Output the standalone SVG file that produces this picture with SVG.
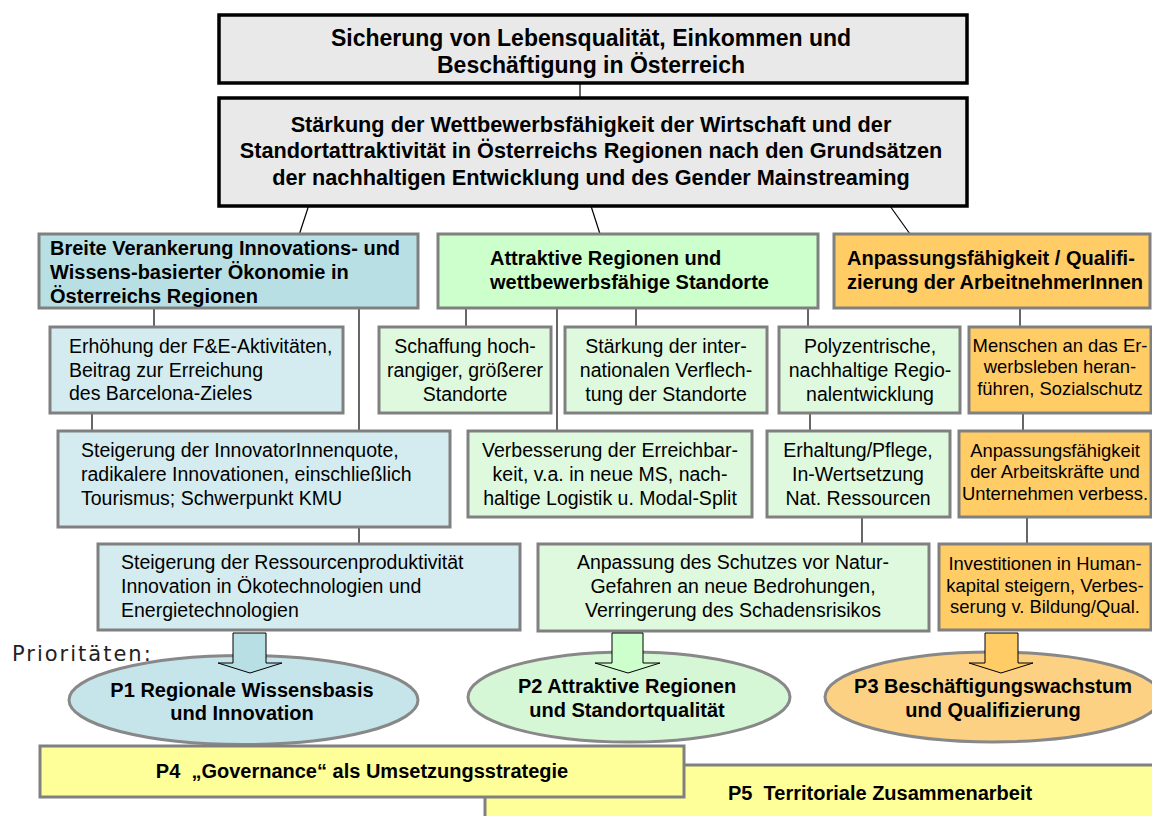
<svg xmlns="http://www.w3.org/2000/svg" width="1152" height="816" viewBox="0 0 1152 816">
<style>
.top{fill:#e9e9e9;stroke:#000;stroke-width:3.5}
.bx{stroke:#808080;stroke-width:3}
.bL2{fill:#b8dfe4}.gL2{fill:#ccffcc}.oL2{fill:#ffcc66}
.b3{fill:#d4ecef}.g3{fill:#def9de}.o3{fill:#ffcc66}
.ye{fill:#ffff99;stroke:#808080;stroke-width:3}
.el{stroke:#888;stroke-width:3}
.arr{stroke:#000;stroke-width:1}
.con line{stroke:#000;stroke-width:1.2}
text{font-family:"Liberation Sans",Arial,sans-serif;fill:#000}
.h1{font-size:23px;font-weight:bold;text-anchor:middle}
.h2{font-size:21.7px;font-weight:bold;text-anchor:middle}
.h3{font-size:20px;font-weight:bold}
.t{font-size:19.5px}
.tc{font-size:19.5px;text-anchor:middle}
.to{font-size:18.4px;text-anchor:middle}
.p{font-size:20px;font-weight:bold;text-anchor:middle}
.pre{white-space:pre}
.pr{font-family:"DejaVu Sans",Verdana,sans-serif;font-size:21px;letter-spacing:2px;fill:#222}
</style>
<rect width="1152" height="816" fill="#fff"/>

<g id="connectors" class="con">
<line x1="580" y1="83" x2="580" y2="98"/>
<line x1="308.6" y1="206" x2="299.4" y2="234"/>
<line x1="591" y1="206" x2="600" y2="234"/>
<line x1="890" y1="206" x2="910" y2="234"/>
<line x1="154" y1="308" x2="154" y2="327"/>
<line x1="359" y1="308" x2="359" y2="431"/>
<line x1="92" y1="413" x2="92" y2="431"/>
<line x1="359" y1="527" x2="359" y2="544"/>
<line x1="466" y1="308" x2="466" y2="327"/>
<line x1="557" y1="308" x2="557" y2="431"/>
<line x1="636" y1="308" x2="636" y2="327"/>
<line x1="808" y1="308" x2="808" y2="327"/>
<line x1="810" y1="413" x2="810" y2="431"/>
<line x1="862" y1="517" x2="862" y2="544"/>
<line x1="1020" y1="308" x2="1020" y2="327"/>
<line x1="1023" y1="413" x2="1023" y2="431"/>
<line x1="1027" y1="517" x2="1027" y2="544"/>
</g>

<g id="goal">
<rect class="top" x="219" y="15" width="748" height="68"/>
<text class="h1" x="591" y="46">Sicherung von Lebensqualität, Einkommen und</text>
<text class="h1" x="591" y="73">Beschäftigung in Österreich</text>
</g>

<g id="aim">
<rect class="top" x="219" y="98" width="748" height="108"/>
<text class="h2" x="591" y="132">Stärkung der Wettbewerbsfähigkeit der Wirtschaft und der</text>
<text class="h2" x="591" y="158">Standortattraktivität in Österreichs Regionen nach den Grundsätzen</text>
<text class="h2" x="591" y="185">der nachhaltigen Entwicklung und des Gender Mainstreaming</text>
</g>

<g id="l2-blue">
<rect class="bx bL2" x="39" y="234" width="379" height="74"/>
<text class="h3" x="50" y="255">Breite Verankerung Innovations- und</text>
<text class="h3" x="50" y="279">Wissens-basierter Ökonomie in</text>
<text class="h3" x="50" y="303">Österreichs Regionen</text>
</g>

<g id="l2-green">
<rect class="bx gL2" x="438" y="234" width="380" height="74"/>
<text class="h3" x="490" y="265">Attraktive Regionen und</text>
<text class="h3" x="490" y="289">wettbewerbsfähige Standorte</text>
</g>

<g id="l2-orange">
<rect class="bx oL2" x="834" y="234" width="316" height="74"/>
<text class="h3" x="847" y="265">Anpassungsfähigkeit / Qualifi-</text>
<text class="h3" x="847" y="289">zierung der ArbeitnehmerInnen</text>
</g>

<g id="b1">
<rect class="bx b3" x="50" y="327" width="293" height="86"/>
<text class="t" x="69" y="353">Erhöhung der F&amp;E-Aktivitäten,</text>
<text class="t" x="69" y="377">Beitrag zur Erreichung</text>
<text class="t" x="69" y="400">des Barcelona-Zieles</text>
</g>

<g id="b2">
<rect class="bx b3" x="58" y="431" width="392" height="96"/>
<text class="t" x="81" y="457">Steigerung der InnovatorInnenquote,</text>
<text class="t" x="81" y="481">radikalere Innovationen, einschließlich</text>
<text class="t" x="81" y="505">Tourismus; Schwerpunkt KMU</text>
</g>

<g id="b3">
<rect class="bx b3" x="98" y="544" width="422" height="86"/>
<text class="t" x="121" y="569">Steigerung der Ressourcenproduktivität</text>
<text class="t" x="121" y="593">Innovation in Ökotechnologien und</text>
<text class="t" x="121" y="617">Energietechnologien</text>
</g>

<g id="g1">
<rect class="bx g3" x="379" y="327" width="172" height="86"/>
<text class="tc" x="465" y="353">Schaffung hoch-</text>
<text class="tc" x="465" y="377">rangiger, größerer</text>
<text class="tc" x="465" y="401">Standorte</text>
</g>

<g id="g2">
<rect class="bx g3" x="565" y="327" width="202" height="86"/>
<text class="tc" x="666" y="353">Stärkung der inter-</text>
<text class="tc" x="666" y="377">nationalen Verflech-</text>
<text class="tc" x="666" y="401">tung der Standorte</text>
</g>

<g id="g3">
<rect class="bx g3" x="779" y="327" width="181" height="86"/>
<text class="tc" x="870" y="353">Polyzentrische,</text>
<text class="tc" x="870" y="377">nachhaltige Regio-</text>
<text class="tc" x="870" y="401">nalentwicklung</text>
</g>

<g id="g4">
<rect class="bx g3" x="468" y="431" width="284" height="86"/>
<text class="tc" x="610" y="457">Verbesserung der Erreichbar-</text>
<text class="tc" x="610" y="481">keit, v.a. in neue MS, nach-</text>
<text class="tc" x="610" y="505">haltige Logistik u. Modal-Split</text>
</g>

<g id="g5">
<rect class="bx g3" x="767" y="431" width="183" height="86"/>
<text class="tc" x="858" y="457">Erhaltung/Pflege,</text>
<text class="tc" x="858" y="481">In-Wertsetzung</text>
<text class="tc" x="858" y="505">Nat. Ressourcen</text>
</g>

<g id="g6">
<rect class="bx g3" x="538" y="544" width="391" height="87"/>
<text class="tc" x="733" y="569">Anpassung des Schutzes vor Natur-</text>
<text class="tc" x="733" y="593">Gefahren an neue Bedrohungen,</text>
<text class="tc" x="733" y="617">Verringerung des Schadensrisikos</text>
</g>

<g id="o1">
<rect class="bx o3" x="969" y="327" width="182" height="86"/>
<text class="to" x="1060" y="352">Menschen an das Er-</text>
<text class="to" x="1060" y="373">werbsleben heran-</text>
<text class="to" x="1060" y="395">führen, Sozialschutz</text>
</g>

<g id="o2">
<rect class="bx o3" x="959" y="431" width="192" height="86"/>
<text class="to" x="1055" y="457">Anpassungsfähigkeit</text>
<text class="to" x="1055" y="478">der Arbeitskräfte und</text>
<text class="to" x="1055" y="500">Unternehmen verbess.</text>
</g>

<g id="o3">
<rect class="bx o3" x="939" y="544" width="212" height="86"/>
<text class="to" x="1045" y="570">Investitionen in Human-</text>
<text class="to" x="1045" y="592">kapital steigern, Verbes-</text>
<text class="to" x="1045" y="613">serung v. Bildung/Qual.</text>
</g>

<g id="label-prioritaeten">
<text class="pr" x="12" y="661">Prioritäten:</text>
</g>

<g id="p1">
<ellipse class="el" cx="243.5" cy="700" rx="174.5" ry="44.5" fill="#c6e5ea"/>
<text class="p" x="242" y="697">P1 Regionale Wissensbasis</text>
<text class="p" x="242" y="720">und Innovation</text>
</g>

<g id="p2">
<ellipse class="el" cx="629" cy="697" rx="161" ry="45" fill="#d6f7d6"/>
<text class="p" x="627" y="693">P2 Attraktive Regionen</text>
<text class="p" x="627" y="717">und Standortqualität</text>
</g>

<g id="p3">
<ellipse class="el" cx="993" cy="697" rx="168" ry="45" fill="#fdd183"/>
<text class="p" x="993" y="693">P3 Beschäftigungswachstum</text>
<text class="p" x="993" y="717">und Qualifizierung</text>
</g>

<g id="arrows">
<polygon class="arr" fill="#b8dfe4" points="233,633 266,633 266,663 282,663 250,673 218,663 233,663"/>
<polygon class="arr" fill="#ccffcc" points="612,633 643,633 643,663 660,663 628,673 595,663 612,663"/>
<polygon class="arr" fill="#ffcc66" points="985,633 1018,633 1018,663 1033,663 1001,673 969,663 985,663"/>
</g>

<g id="p5">
<rect class="ye" x="485" y="765" width="700" height="70"/>
<text class="h3 pre" x="728" y="800">P5  Territoriale Zusammenarbeit</text>
</g>

<g id="p4">
<rect class="ye" x="40" y="746" width="644" height="51"/>
<text class="p pre" x="362" y="778">P4  „Governance“ als Umsetzungsstrategie</text>
</g>
</svg>
